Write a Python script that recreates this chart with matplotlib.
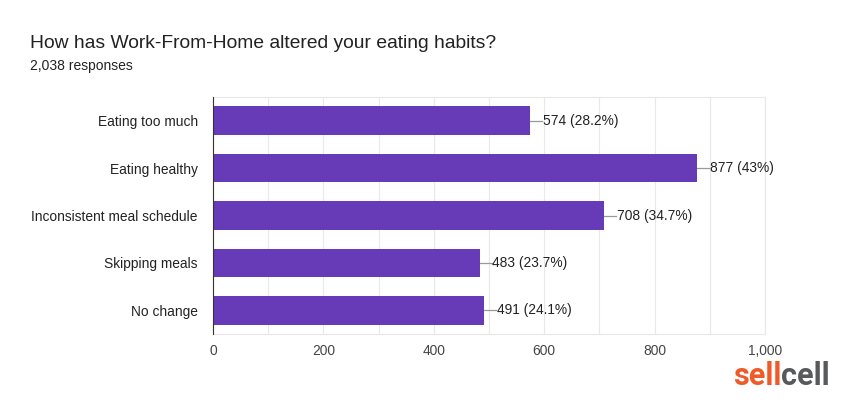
import matplotlib
matplotlib.use('Agg')
from matplotlib import pyplot as plt
from matplotlib.ticker import MultipleLocator, FuncFormatter

# Survey answers, top to bottom
categories = ['Eating too much', 'Eating healthy', 'Inconsistent meal schedule',
              'Skipping meals', 'No change']
counts = [574, 877, 708, 483, 491]
pct_labels = ['28.2%', '43%', '34.7%', '23.7%', '24.1%']
title = 'How has Work-From-Home altered your eating habits?'
subtitle = '2,038 responses'

BAR = '#673ab7'
plt.rcParams['font.family'] = ['Liberation Sans', 'DejaVu Sans']

fig = plt.figure(figsize=(8.5, 4.04), dpi=100)
ax = fig.add_axes([0.2506, 0.173, 0.6494, 0.587])

ypos = list(range(len(categories)))
ax.barh(ypos, counts, height=0.6, color=BAR, zorder=3)

# value labels with short leader line
for y, c, p in zip(ypos, counts, pct_labels):
    ax.plot([c, c + 22], [y, y], color='#999999', lw=0.9, zorder=2)
    ax.text(c + 23, y, f'{c} ({p})', va='center', ha='left', fontsize=9.9, color='#222222')

ax.set_xlim(0, 1000)
ax.set_ylim(len(categories) - 0.5, -0.5)
ax.set_yticks(ypos)
ax.set_yticklabels(categories, fontsize=9.9, color='#222222')
ax.xaxis.set_major_locator(MultipleLocator(200))
ax.xaxis.set_minor_locator(MultipleLocator(100))
ax.xaxis.set_major_formatter(FuncFormatter(lambda v, _: f'{int(v):,}'))
ax.tick_params(axis='x', labelsize=9.9, colors='#444444', length=0, pad=7, which='both')
ax.tick_params(axis='y', length=0, pad=11)
ax.grid(axis='x', which='both', color='#e8e8e8', lw=0.8, zorder=0)
for s in ['top', 'right', 'bottom']:
    ax.spines[s].set_color('#e8e8e8')
    ax.spines[s].set_linewidth(0.8)
ax.spines['left'].set_color('#333333')
ax.spines['left'].set_zorder(4)

fig.text(30 / 850, 1 - 44 / 404, title, fontsize=13.9, color='#222222', va='center')
fig.text(30 / 850, 1 - 66 / 404, subtitle, fontsize=10, color='#222222', va='center')

# logo
t = fig.text(733 / 850, 1 - 385 / 404, 'sell', fontsize=22, fontweight='bold',
             color='#f05a28', va='baseline', family='Roboto')
fig.canvas.draw()
bb = t.get_window_extent()
fig.text(bb.x1 / 850, 1 - 385 / 404, 'cell', fontsize=22, fontweight='bold',
         color='#58595b', va='baseline', family='Roboto')

plt.savefig('out.png', dpi=100)
